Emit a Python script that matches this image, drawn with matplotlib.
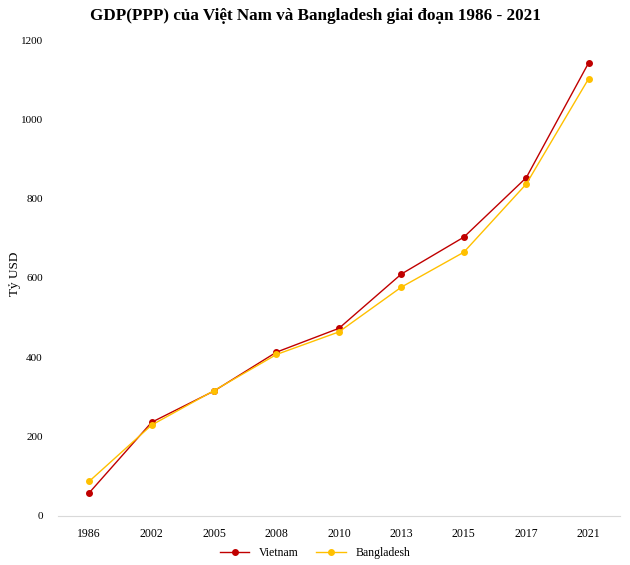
import matplotlib
matplotlib.use("Agg")
import matplotlib.pyplot as plt

# du lieu
years = ['1986', '2002', '2005', '2008', '2010', '2013', '2015', '2017', '2021']
vietnam = [58, 236, 315, 413, 473, 610, 703, 853, 1143]
bangladesh = [87, 229, 316, 407, 464, 577, 665, 837, 1103]

plt.rcParams['font.family'] = ['Liberation Serif', 'DejaVu Serif']

fig = plt.figure(figsize=(6.3, 5.65), dpi=100)
ax = fig.add_axes([0.092, 0.087, 0.892, 0.842])

x = range(len(years))
ax.plot(x, vietnam, color='#C00000', lw=1.0, marker='o', ms=4, label='Vietnam')
ax.plot(x, bangladesh, color='#FFC000', lw=1.0, marker='o', ms=4, label='Bangladesh')

ax.set_xlim(-0.5, len(years) - 0.5)
ax.set_ylim(0, 1200)
ax.set_yticks(range(0, 1201, 200))
ax.set_xticks(list(x))
ax.set_xticklabels(years)
ax.tick_params(length=0, labelsize=8.5, pad=9)
ax.tick_params(axis='y', labelsize=8, pad=11)

for s in ['top', 'right', 'left']:
    ax.spines[s].set_visible(False)
ax.spines['bottom'].set_color('#d9d9d9')

fig.text(0.024, 0.515, 'Tỷ USD', rotation=90, fontsize=9.5, va='center', ha='center')
fig.suptitle('GDP(PPP) của Việt Nam và Bangladesh giai đoạn 1986 - 2021',
             fontsize=12.3, fontweight='bold', y=0.985)

fig.legend(loc='lower center', bbox_to_anchor=(0.5, -0.008), ncol=2, frameon=False,
           fontsize=8.5, handlelength=2.5, columnspacing=1.5)

fig.savefig('out.png', dpi=100)
